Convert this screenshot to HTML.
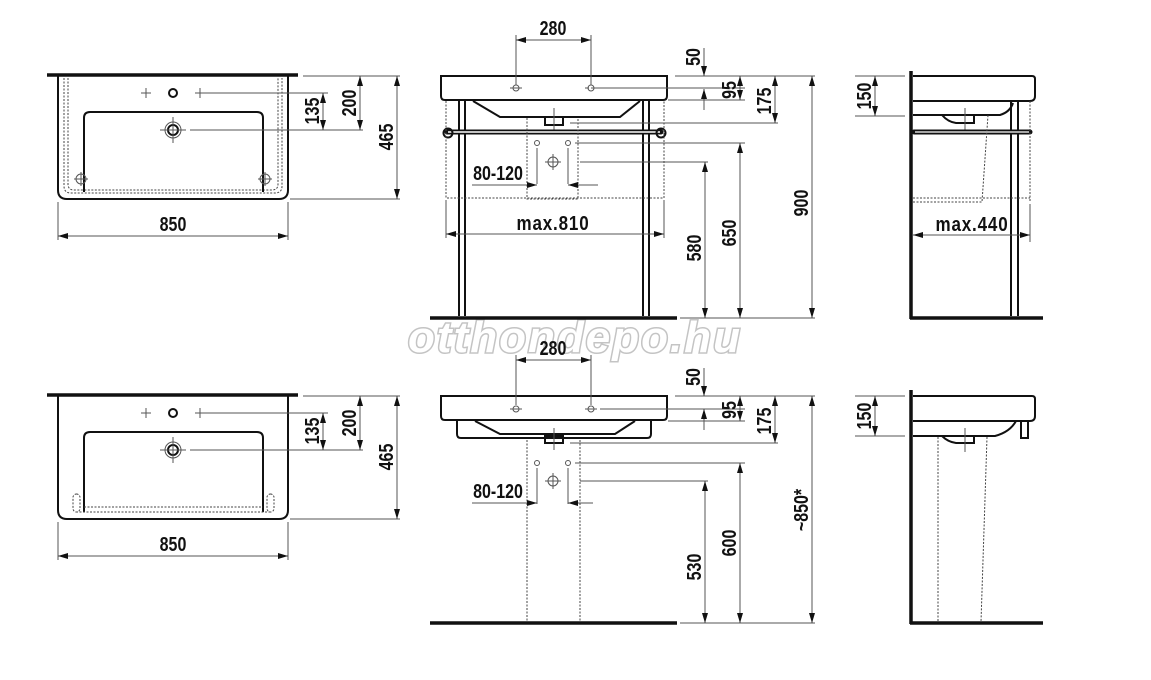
<!DOCTYPE html>
<html><head><meta charset="utf-8"><style>
html,body{margin:0;padding:0;background:#fff;}
svg{display:block}
.t{font-family:"Liberation Sans Narrow","Liberation Sans",sans-serif;font-weight:bold;font-size:20px;fill:#111;text-anchor:middle}
.d{stroke:#555;stroke-width:1;fill:none}
.o{stroke:#111;stroke-width:2;fill:none}
.k{stroke:#111;stroke-width:3.5;fill:none}
.dt{stroke:#444;stroke-width:1;fill:none;stroke-dasharray:2 1.5}
</style></head><body>
<svg width="1151" height="680" viewBox="0 0 1151 680" xmlns="http://www.w3.org/2000/svg">
<defs>
<marker id="a" viewBox="0 0 10 6" refX="10" refY="3" markerWidth="10" markerHeight="6" orient="auto-start-reverse" markerUnits="userSpaceOnUse"><path d="M0,0 L10,3 L0,6 z" fill="#111"/></marker>
</defs>

<!-- watermark -->
<text x="575" y="352" text-anchor="middle" style="font-family:'Liberation Sans',sans-serif;font-weight:bold;font-style:italic;font-size:44px;fill:#fff;stroke:#c4c4c4;stroke-width:3;letter-spacing:2px;paint-order:stroke">otthondepo.hu</text>

<!-- ===== TOP LEFT ===== -->
<g>
<line class="k" x1="47" y1="75" x2="298" y2="75"/>
<path class="o" d="M58,76 V190 Q58,199 67,199 H279 Q288,199 288,190 V76"/>
<path class="dt" d="M64,78 V186 Q64,193 71,193 H275 Q282,193 282,186 V78"/>
<path class="dt" d="M68,78 V184 Q68,190 74,190 H272 Q278,190 278,184 V78"/>
<path class="o" d="M84,192 V118 Q84,112 90,112 H257 Q263,112 263,118 V192"/>
<circle cx="173" cy="93" r="4" class="o"/>
<path class="d" d="M141,93h10M146,88v10M195,93h10M200,88v10"/>
<circle cx="173" cy="130" r="8" class="d"/><circle cx="173" cy="130" r="5" class="o"/>
<path class="d" d="M160,130h26M173,117v26"/>
<circle cx="81" cy="179" r="5" class="d"/><circle cx="265" cy="179" r="5" class="d"/>
<path class="d" d="M74,179h14M81,172v14M258,179h14M265,172v14"/>
<line class="d" x1="205" y1="93" x2="328" y2="93"/>
<line class="d" x1="190" y1="130" x2="363" y2="130"/>
<line class="d" x1="303" y1="76" x2="400" y2="76"/>
<line class="d" x1="290" y1="199" x2="400" y2="199"/>
<line class="d" x1="323" y1="93" x2="323" y2="130" marker-start="url(#a)" marker-end="url(#a)"/>
<line class="d" x1="360" y1="76" x2="360" y2="130" marker-start="url(#a)" marker-end="url(#a)"/>
<line class="d" x1="397" y1="76" x2="397" y2="199" marker-start="url(#a)" marker-end="url(#a)"/>
<text class="t" transform="translate(319,111) rotate(-90) scale(.8,1)">135</text>
<text class="t" transform="translate(356,103) rotate(-90) scale(.8,1)">200</text>
<text class="t" transform="translate(393,137) rotate(-90) scale(.8,1)">465</text>
<path class="d" d="M58,202v38M288,202v38"/>
<line class="d" x1="58" y1="236" x2="288" y2="236" marker-start="url(#a)" marker-end="url(#a)"/>
<text class="t" transform="translate(173,231) scale(.8,1)">850</text>
</g>

<!-- ===== BOTTOM LEFT ===== -->
<g>
<line class="k" x1="47" y1="395" x2="298" y2="395"/>
<path class="o" d="M58,396 V510 Q58,519 67,519 H279 Q288,519 288,510 V396"/>
<path class="o" d="M84,512 V438 Q84,432 90,432 H257 Q263,432 263,438 V512"/>
<path class="dt" d="M84,507 H263 M76,512 H270"/>
<rect x="73" y="494" width="7" height="18" rx="3.5" class="dt"/>
<rect x="267" y="494" width="7" height="18" rx="3.5" class="dt"/>
<circle cx="173" cy="413" r="4" class="o"/>
<path class="d" d="M141,413h10M146,408v10M195,413h10M200,408v10"/>
<circle cx="173" cy="450" r="8" class="d"/><circle cx="173" cy="450" r="5" class="o"/>
<path class="d" d="M160,450h26M173,437v26"/>
<line class="d" x1="205" y1="413" x2="328" y2="413"/>
<line class="d" x1="190" y1="450" x2="363" y2="450"/>
<line class="d" x1="303" y1="396" x2="400" y2="396"/>
<line class="d" x1="290" y1="519" x2="400" y2="519"/>
<line class="d" x1="323" y1="413" x2="323" y2="450" marker-start="url(#a)" marker-end="url(#a)"/>
<line class="d" x1="360" y1="396" x2="360" y2="450" marker-start="url(#a)" marker-end="url(#a)"/>
<line class="d" x1="397" y1="396" x2="397" y2="519" marker-start="url(#a)" marker-end="url(#a)"/>
<text class="t" transform="translate(319,431) rotate(-90) scale(.8,1)">135</text>
<text class="t" transform="translate(356,423) rotate(-90) scale(.8,1)">200</text>
<text class="t" transform="translate(393,457) rotate(-90) scale(.8,1)">465</text>
<path class="d" d="M58,522v38M288,522v38"/>
<line class="d" x1="58" y1="556" x2="288" y2="556" marker-start="url(#a)" marker-end="url(#a)"/>
<text class="t" transform="translate(173,551) scale(.8,1)">850</text>
</g>

<!-- ===== TOP MIDDLE ===== -->
<g>
<path class="o" d="M441,76 H667 V96 Q667,100 663,100 H445 Q441,100 441,96 Z"/>
<path class="o" d="M473,101 L500,117 H620 L640,101"/>
<rect x="545" y="117" width="18" height="8" class="o"/>
<line class="d" x1="554" y1="108" x2="554" y2="132"/>
<circle cx="516" cy="88" r="3" class="d"/><circle cx="591" cy="88" r="3" class="d"/>
<path class="d" d="M510,88h12M591,88h10M585,88h4"/>
<path class="d" d="M516,35v50M591,35v50"/>
<line class="d" x1="516" y1="40" x2="591" y2="40" marker-start="url(#a)" marker-end="url(#a)"/>
<text class="t" transform="translate(553,35) scale(.8,1)">280</text>
<path class="o" d="M459,101 V316 M465,101 V316 M643,101 V316 M649,101 V316"/>
<line x1="447" y1="132" x2="661" y2="132" stroke="#111" stroke-width="5" stroke-linecap="round"/>
<line x1="448" y1="132" x2="660" y2="132" stroke="#fff" stroke-width="1.5"/>
<circle cx="448" cy="133" r="4.5" class="o"/><circle cx="661" cy="133" r="4.5" class="o"/>
<path class="dt" d="M446,101 V198 H664 V101"/>
<path class="dt" d="M527,118 V199 H578 V118"/>
<circle cx="537" cy="143" r="2.5" class="d"/><circle cx="568" cy="143" r="2.5" class="d"/>
<circle cx="553" cy="162" r="5" class="d"/><path class="d" d="M545,162h16M553,154v16"/>
<path class="d" d="M537,148v36M568,148v36"/>
<line class="d" x1="472" y1="185" x2="527" y2="185"/>
<line class="d" x1="527" y1="185" x2="537" y2="185" marker-end="url(#a)"/>
<line class="d" x1="598" y1="185" x2="568" y2="185" marker-end="url(#a)"/>
<text class="t" transform="translate(498,180) scale(.8,1)">80-120</text>
<path class="d" d="M446,200v38M664,200v38"/>
<line class="d" x1="446" y1="234" x2="664" y2="234" marker-start="url(#a)" marker-end="url(#a)"/>
<text class="t" transform="translate(553,230) scale(.85,1)" style="letter-spacing:1px">max.810</text>
<line x1="430" y1="318" x2="677" y2="318" stroke="#111" stroke-width="3.5"/>
<path class="d" d="M675,76H815 M668,100H745 M600,88H745 M570,123H778 M575,143H745 M580,162H708 M680,318H815"/>
<line class="d" x1="704" y1="48" x2="704" y2="76" marker-end="url(#a)"/>
<line class="d" x1="704" y1="110" x2="704" y2="89" marker-end="url(#a)"/>
<line class="d" x1="740" y1="76" x2="740" y2="100" marker-start="url(#a)" marker-end="url(#a)"/>
<line class="d" x1="775" y1="76" x2="775" y2="123" marker-start="url(#a)" marker-end="url(#a)"/>
<line class="d" x1="812" y1="76" x2="812" y2="318" marker-start="url(#a)" marker-end="url(#a)"/>
<line class="d" x1="740" y1="143" x2="740" y2="318" marker-start="url(#a)" marker-end="url(#a)"/>
<line class="d" x1="705" y1="162" x2="705" y2="318" marker-start="url(#a)" marker-end="url(#a)"/>
<text class="t" transform="translate(700,57) rotate(-90) scale(.8,1)">50</text>
<text class="t" transform="translate(736,90) rotate(-90) scale(.8,1)">95</text>
<text class="t" transform="translate(771,101) rotate(-90) scale(.8,1)">175</text>
<text class="t" transform="translate(808,203) rotate(-90) scale(.8,1)">900</text>
<text class="t" transform="translate(736,233) rotate(-90) scale(.8,1)">650</text>
<text class="t" transform="translate(701,248) rotate(-90) scale(.8,1)">580</text>
</g>

<!-- ===== BOTTOM MIDDLE ===== -->
<g>
<path class="o" d="M441,396 H667 V416 Q667,420 663,420 H445 Q441,420 441,416 Z"/>
<path class="o" d="M457,421 V434 Q457,438 461,438 H647 Q651,438 651,434 V421"/>
<path class="o" d="M475,421 L500,434 H615 L635,421"/>
<rect x="545" y="436" width="18" height="7" class="o"/>
<line class="d" x1="554" y1="428" x2="554" y2="450"/>
<circle cx="516" cy="409" r="3" class="d"/><circle cx="591" cy="409" r="3" class="d"/>
<path class="d" d="M510,409h12M585,409h12"/>
<path class="d" d="M516,355v50M591,355v50"/>
<line class="d" x1="516" y1="360" x2="591" y2="360" marker-start="url(#a)" marker-end="url(#a)"/>
<text class="t" transform="translate(553,355) scale(.8,1)">280</text>
<path class="dt" d="M527,440 V622 M580,440 V622"/>
<circle cx="537" cy="463" r="2.5" class="d"/><circle cx="568" cy="463" r="2.5" class="d"/>
<circle cx="553" cy="481" r="5" class="d"/><path class="d" d="M545,481h16M553,473v16"/>
<path class="d" d="M537,468v36M568,468v36"/>
<line class="d" x1="472" y1="503" x2="527" y2="503"/>
<line class="d" x1="527" y1="503" x2="537" y2="503" marker-end="url(#a)"/>
<line class="d" x1="593" y1="503" x2="568" y2="503" marker-end="url(#a)"/>
<text class="t" transform="translate(498,498) scale(.8,1)">80-120</text>
<line x1="430" y1="623" x2="677" y2="623" stroke="#111" stroke-width="3.5"/>
<path class="d" d="M675,396H815 M668,421H745 M600,409H745 M570,443H778 M575,463H745 M580,481H708 M680,623H815"/>
<line class="d" x1="704" y1="368" x2="704" y2="396" marker-end="url(#a)"/>
<line class="d" x1="704" y1="430" x2="704" y2="409" marker-end="url(#a)"/>
<line class="d" x1="740" y1="396" x2="740" y2="421" marker-start="url(#a)" marker-end="url(#a)"/>
<line class="d" x1="775" y1="396" x2="775" y2="443" marker-start="url(#a)" marker-end="url(#a)"/>
<line class="d" x1="812" y1="396" x2="812" y2="623" marker-start="url(#a)" marker-end="url(#a)"/>
<line class="d" x1="740" y1="463" x2="740" y2="623" marker-start="url(#a)" marker-end="url(#a)"/>
<line class="d" x1="705" y1="481" x2="705" y2="623" marker-start="url(#a)" marker-end="url(#a)"/>
<text class="t" transform="translate(700,377) rotate(-90) scale(.8,1)">50</text>
<text class="t" transform="translate(736,410) rotate(-90) scale(.8,1)">95</text>
<text class="t" transform="translate(771,421) rotate(-90) scale(.8,1)">175</text>
<text class="t" transform="translate(808,510) rotate(-90) scale(.8,1)">~850*</text>
<text class="t" transform="translate(736,543) rotate(-90) scale(.8,1)">600</text>
<text class="t" transform="translate(701,567) rotate(-90) scale(.8,1)">530</text>
</g>

<!-- ===== TOP RIGHT ===== -->
<g>
<line x1="911" y1="71" x2="911" y2="319" stroke="#111" stroke-width="3.5"/>
<line x1="910" y1="318" x2="1043" y2="318" stroke="#111" stroke-width="3.5"/>
<path class="o" d="M913,76 H1032 Q1035,76 1035,79 V96 Q1035,101 1030,101 H913"/>
<path class="o" d="M913,115 H1000 Q1010,112 1013,103"/>
<path class="o" d="M942,115 Q948,122 956,123 H974 V115"/>
<line class="d" x1="965" y1="108" x2="965" y2="130"/>
<path class="o" d="M1011,102 V316 M1018,102 V316"/>
<line x1="914" y1="132" x2="1030" y2="132" stroke="#111" stroke-width="5" stroke-linecap="round"/>
<line x1="915" y1="132" x2="1029" y2="132" stroke="#fff" stroke-width="1.2"/>
<path class="dt" d="M1030,101 V201 M913,198 H1030 M913,202 H982 L988,115"/>
<path class="d" d="M855,76H905 M855,116H905"/>
<line class="d" x1="875" y1="76" x2="875" y2="116" marker-start="url(#a)" marker-end="url(#a)"/>
<text class="t" transform="translate(871,96) rotate(-90) scale(.8,1)">150</text>
<path class="d" d="M1030,204v38"/>
<line class="d" x1="913" y1="235" x2="1030" y2="235" marker-start="url(#a)" marker-end="url(#a)"/>
<text class="t" transform="translate(972,231) scale(.85,1)" style="letter-spacing:1px">max.440</text>
</g>

<!-- ===== BOTTOM RIGHT ===== -->
<g>
<line x1="911" y1="390" x2="911" y2="624" stroke="#111" stroke-width="3.5"/>
<line x1="910" y1="623" x2="1043" y2="623" stroke="#111" stroke-width="3.5"/>
<path class="o" d="M913,396 H1032 Q1035,396 1035,399 V416 Q1035,421 1030,421 H913"/>
<path class="o" d="M913,436 H995 Q1010,432 1016,421"/>
<path class="o" d="M942,436 Q948,442 956,443 H974 V436"/>
<line class="d" x1="965" y1="428" x2="965" y2="452"/>
<rect x="1021" y="421" width="7" height="17" class="o"/>
<path class="dt" d="M938,437 V622 M987,437 L981,622"/>
<path class="d" d="M855,396H905 M855,436H905"/>
<line class="d" x1="875" y1="396" x2="875" y2="436" marker-start="url(#a)" marker-end="url(#a)"/>
<text class="t" transform="translate(871,416) rotate(-90) scale(.8,1)">150</text>
</g>
</svg>
</body></html>
